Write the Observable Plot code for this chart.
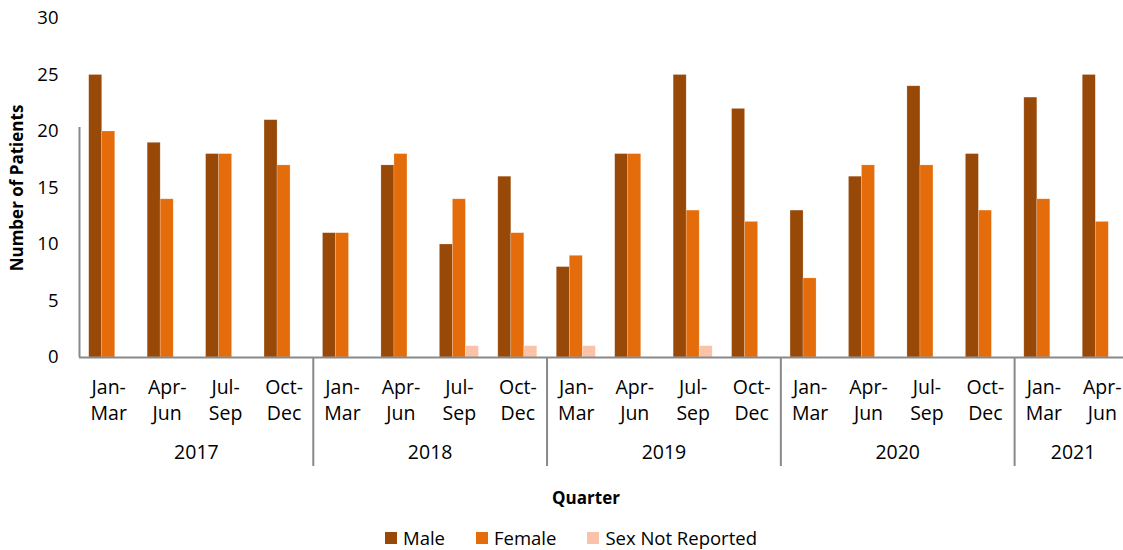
<!DOCTYPE html>
<html>
<head>
<meta charset="utf-8">
<script src="https://cdn.jsdelivr.net/npm/d3@7"></script>
<script src="https://cdn.jsdelivr.net/npm/@observablehq/plot@0.6"></script>
<style>
  html, body { margin: 0; padding: 0; background: #fff; overflow: hidden; }
  body { width: 1123px; height: 550px; position: relative; font-family: "Open Sans", sans-serif; color: #000; }
  #chart svg { overflow: hidden; display: block; }
  #xtitle { position: absolute; left: 586px; top: 486px; transform: translateX(-50%); font-weight: bold; font-size: 17px; line-height: 24px; white-space: nowrap; }
  #legend { position: absolute; left: 571px; top: 525px; transform: translateX(-50%); display: flex; gap: 31px; font-size: 18.5px; line-height: 26px; white-space: nowrap; align-items: center; }
  #legend .item { display: flex; align-items: center; gap: 6px; }
  #legend .sw { width: 12px; height: 12px; display: inline-block; }
</style>
</head>
<body>
<div id="chart"></div>
<div id="xtitle">Quarter</div>
<div id="legend"></div>
<script>
const years = ["2017", "2018", "2019", "2020", "2021"];
const quarterNames = ["Jan-\nMar", "Apr-\nJun", "Jul-\nSep", "Oct-\nDec"];
const sexes = ["Male", "Female", "Sex Not Reported"];
const colors = ["#984807", "#E46C0A", "#FAC3A9"];
// values per quarter, 2017 Q1 .. 2021 Q2
const male =   [25, 19, 18, 21,  11, 17, 10, 16,  8, 18, 25, 22,  13, 16, 24, 18,  23, 25];
const female = [20, 14, 18, 17,  11, 18, 14, 11,  9, 18, 13, 12,   7, 17, 17, 13,  14, 12];
const notRep = [ 0,  0,  0,  0,   0,  0,  1,  1,  1,  0,  1,  0,   0,  0,  0,  0,   0,  0];
const yTicks = [0, 5, 10, 15, 20, 25, 30];

const nQ = male.length;
const quarters = d3.range(nQ).map(i => ({
  i,
  year: years[Math.floor(i / 4)],
  label: quarterNames[i % 4]
}));
const series = [male, female, notRep];
const rows = [];
quarters.forEach(q => {
  sexes.forEach((s, si) => {
    rows.push({q: q.i, sex: s, si, value: series[si][q.i]});
  });
});
const yearGroups = years.map((y, k) => {
  const idx = quarters.filter(q => q.year === y).map(q => q.i);
  return {year: y, start: d3.min(idx), end: d3.max(idx) + 1};
});
const boundaries = yearGroups.map(g => g.start);

const barW = 0.2226;
const outer = (1 - 3 * barW) / 2;

const chart = Plot.plot({
  width: 1123,
  height: 478,
  marginTop: 18,
  marginBottom: 121,
  marginLeft: 79,
  marginRight: 0,
  style: {fontFamily: "Open Sans, sans-serif", fontSize: "18.5px", color: "#000", background: "#fff"},
  x: {domain: [0, 18], range: [79, 1131], axis: null},
  y: {domain: [0, 30], ticks: yTicks, tickSize: 0, tickPadding: 21, label: null},
  color: {domain: sexes, range: colors},
  marks: [
    Plot.rectY(rows.filter(d => d.value > 0), {
      x1: d => d.q + outer + d.si * barW,
      x2: d => d.q + outer + (d.si + 1) * barW,
      y1: 0,
      y2: "value",
      fill: "sex",
      stroke: "#ffffff",
      strokeOpacity: 0.35,
      strokeWidth: 0.6
    }),
    Plot.ruleY([0], {stroke: "#898989", strokeWidth: 2}),
    Plot.ruleX([0], {y1: 0, y2: 30, insetBottom: -109, stroke: "#898989", strokeWidth: 2}),
    Plot.ruleX(boundaries.filter(b => b > 0), {x: d => d, y1: 0, y2: 0, insetBottom: -109, stroke: "#898989", strokeWidth: 2}),
    Plot.text(quarters, {
      x: d => d.i + 0.5, frameAnchor: "bottom", text: "label",
      lineAnchor: "top", lineHeight: 1.33, dy: 18, fontSize: 19.5, fill: "#000"
    }),
    Plot.text(yearGroups, {
      x: d => (d.start + d.end) / 2, frameAnchor: "bottom", text: "year",
      lineAnchor: "middle", dy: 95, fontSize: 19.5, fill: "#000"
    }),
    Plot.text(["Number of Patients"], {
      frameAnchor: "left", dx: -62, rotate: -90, text: d => d, textAnchor: "middle",
      fontWeight: "bold", fontSize: 17, lineAnchor: "middle", fill: "#000"
    })
  ]
});
document.getElementById("chart").appendChild(chart);

const legend = document.getElementById("legend");
sexes.forEach((s, i) => {
  const item = document.createElement("div");
  item.className = "item";
  const sw = document.createElement("span");
  sw.className = "sw";
  sw.style.background = colors[i];
  const t = document.createElement("span");
  t.textContent = s;
  item.appendChild(sw);
  item.appendChild(t);
  legend.appendChild(item);
});
</script>
</body>
</html>
